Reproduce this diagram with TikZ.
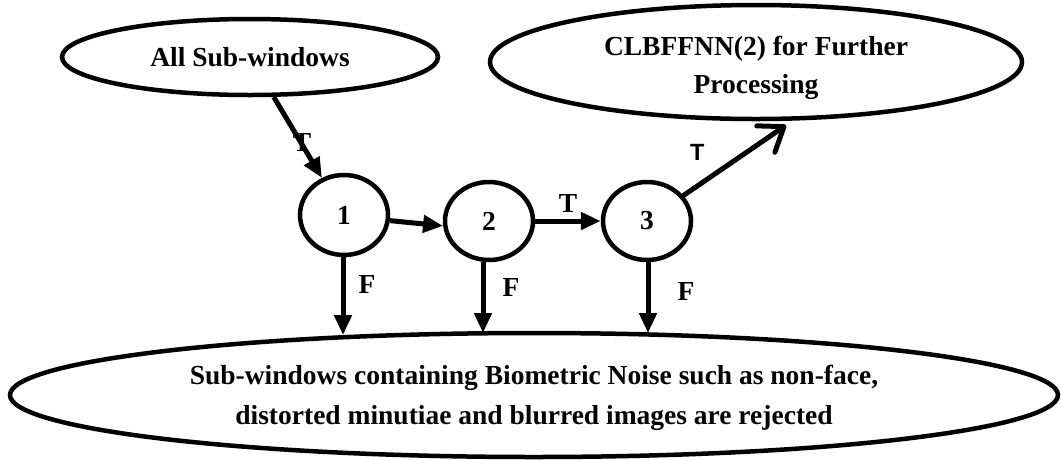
\documentclass[tikz,border=0pt]{standalone}
\usepackage{fontspec}
\setmainfont{Liberation Serif}
\newfontfamily\labelsans{Liberation Sans}
\usetikzlibrary{shapes.geometric,arrows.meta}
\tikzset{
  oval/.style={ellipse, draw, line width=4.5pt, inner sep=0pt, align=center,
    font=\fontsize{27.5}{39}\selectfont\bfseries},
  ovaltext/.style={align=center, inner sep=0pt, font=\fontsize{27.5}{38}\selectfont\bfseries},
  stage/.style={ellipse, draw, line width=4.5pt, inner sep=0pt,
    minimum width=88pt, minimum height=80pt, font=\fontsize{27.5}{30}\selectfont\bfseries},
  flow/.style={line width=5pt, -{Triangle[length=20pt,width=17pt]}},
  openflow/.style={line width=5pt, line cap=round,
    -{Straight Barb[length=22pt,width=32pt,line width=5pt,round]}},
  lbl/.style={font=\fontsize{27.5}{30}\selectfont\bfseries, inner sep=0pt},
}
\begin{document}
\begin{tikzpicture}[x=1pt,y=-1pt]
  \useasboundingbox (0,0) rectangle (1061,459);
  % source, stages and sinks
  \node[oval, minimum width=376pt, minimum height=76pt] (all) at (250,57) {All Sub-windows};
  \node[oval, minimum width=532pt, minimum height=114pt,
    label={[ovaltext, yshift=-6pt]center:CLBFFNN(2) for Further\\Processing}] (further) at (756,62) {};
  \node[stage] (s1) at (344,215) {\raisebox{-3pt}{1}};
  \node[stage, minimum height=78pt] (s2) at (489,221) {\raisebox{-3pt}{2}};
  \node[stage, minimum height=78pt] (s3) at (647,221) {\raisebox{-3pt}{3}};
  \node[oval, minimum width=1048pt, minimum height=124pt,
    label={[ovaltext, yshift=-3pt, font=\fontsize{27.5}{40}\selectfont\bfseries]center:Sub-windows containing Biometric Noise such as non-face,\\distorted minutiae and blurred images are rejected}] (reject) at (534,395) {};
  % true branches
  \draw[flow] (all) -- (s1) node[lbl, pos=0.56, left=-13pt] {T};
  \draw[flow] (s1.-7) -- (s2.-174);
  \draw[flow] (s2) -- (s3) node[lbl, midway, above=6pt] {T};
  \draw[openflow, shorten >=8pt] (s3.35) -- (further.-58)
    node[lbl, pos=0.2, above=18pt, xshift=-8pt, font=\fontsize{23.5}{26}\selectfont\labelsans\bfseries] {T};
  % false branches
  \coordinate (e1) at (343,335);
  \coordinate (e2) at (483,333);
  \coordinate (e3) at (648,333);
  \draw[flow] (s1.south -| e1) -- (e1) node[lbl, pos=0.35, right=13pt] {F};
  \draw[flow] (s2.south -| e2) -- (e2) node[lbl, pos=0.35, right=17pt] {F};
  \draw[flow] (s3.south -| e3) -- (e3) node[lbl, pos=0.42, right=27pt] {F};
\end{tikzpicture}
\end{document}
